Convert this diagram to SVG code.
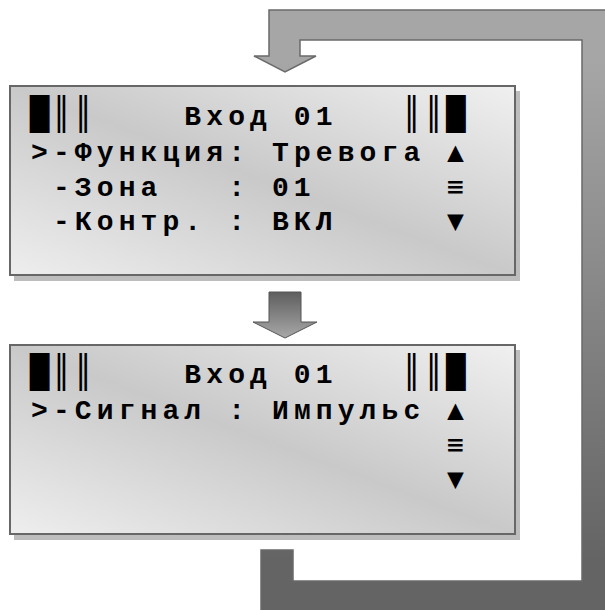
<svg xmlns="http://www.w3.org/2000/svg" width="605" height="610" viewBox="0 0 605 610">
<defs>
<linearGradient id="loopGrad" gradientUnits="userSpaceOnUse" x1="0" y1="60" x2="0" y2="560">
<stop offset="0" stop-color="#a6a6a6"/>
<stop offset="1" stop-color="#646464"/>
</linearGradient>
<linearGradient id="midGrad" x1="0" y1="0" x2="0" y2="1">
<stop offset="0" stop-color="#5e5e5e"/>
<stop offset="1" stop-color="#a8a8a8"/>
</linearGradient>
<linearGradient id="panelGrad" x1="0" y1="1" x2="1" y2="0">
<stop offset="0" stop-color="#eeeeee"/>
<stop offset="0.5" stop-color="#c9c9c9"/>
<stop offset="1" stop-color="#f0f0f0"/>
</linearGradient>
<style>
.shadow{fill:#bdbdbd}
.panel{fill:url(#panelGrad);stroke:#676767;stroke-width:2}
.t{font-family:"Liberation Mono","Courier New",monospace;font-weight:bold;font-size:28px;letter-spacing:5.1px;fill:#000}
.s{font-family:"DejaVu Sans Mono",monospace;font-size:28px;fill:#000;text-anchor:middle}
.b{font-family:"DejaVu Sans Mono",monospace;font-size:32px;fill:#000;text-anchor:middle}
.v{font-family:"DejaVu Sans Mono",monospace;font-size:32px;fill:#000;text-anchor:middle}
</style>
</defs>
<g id="connectors">
<path d="M261,550 L293,550 L293,581 L582,581 L582,40 L300,40 L300,56 L316,56 L285,72 L254,56 L269,56 L269,10 L615,10 L615,620 L261,620 Z" fill="url(#loopGrad)" stroke="#6a6a6a" stroke-width="1.5"/>
<path d="M269,292 L301,292 L301,322 L317,322 L285,338 L253,322 L269,322 Z" fill="url(#midGrad)" stroke="#555555" stroke-width="1"/>
</g>
<g id="panel1">
<rect class="shadow" x="14" y="91" width="506" height="190"/>
<rect class="panel" x="10" y="86" width="505" height="189"/>
<text class="b" x="39.45" y="125">█</text>
<text class="v" x="61.35" y="125">║</text>
<text class="v" x="83.25" y="125">║</text>
<text class="t" x="184.35" y="125">Вход 01</text>
<text class="v" x="411.75" y="125">║</text>
<text class="v" x="433.65" y="125">║</text>
<text class="b" x="455.55" y="125">█</text>
<text class="t" x="31.05" y="161">&gt;-Функция: Тревога</text>
<text class="s" x="455.55" y="161">▲</text>
<text class="t" x="52.95" y="196">-Зона</text>
<text class="t" x="228.15" y="196">: 01</text>
<text class="s" x="455.55" y="196">≡</text>
<text class="t" x="52.95" y="230">-Контр.</text>
<text class="t" x="228.15" y="230">: ВКЛ</text>
<text class="s" x="455.55" y="230">▼</text>
</g>
<g id="panel2">
<rect class="shadow" x="14" y="350" width="506" height="190"/>
<rect class="panel" x="10" y="345" width="505" height="189"/>
<text class="b" x="39.45" y="383">█</text>
<text class="v" x="61.35" y="383">║</text>
<text class="v" x="83.25" y="383">║</text>
<text class="t" x="184.35" y="383">Вход 01</text>
<text class="v" x="411.75" y="383">║</text>
<text class="v" x="433.65" y="383">║</text>
<text class="b" x="455.55" y="383">█</text>
<text class="t" x="31.05" y="419">&gt;-Сигнал : Импульс</text>
<text class="s" x="455.55" y="419">▲</text>
<text class="s" x="455.55" y="454">≡</text>
<text class="s" x="455.55" y="488">▼</text>
</g>
</svg>
